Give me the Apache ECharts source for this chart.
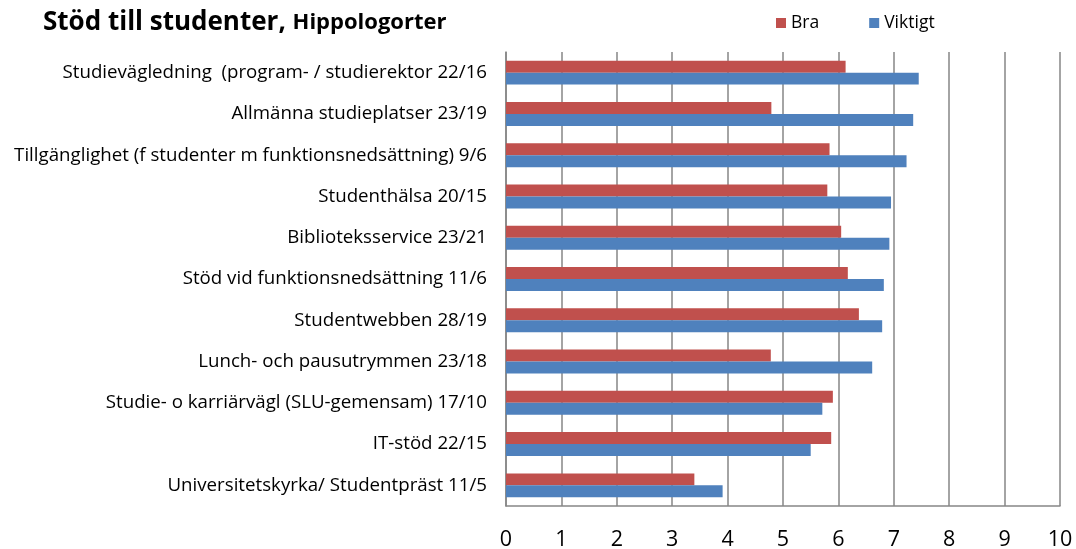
<!DOCTYPE html>
<html>
<head>
<meta charset="utf-8">
<script src="https://cdn.jsdelivr.net/npm/echarts@6/dist/echarts.min.js"></script>
<style>
  html, body { margin: 0; padding: 0; background: #fff; }
  #chart { width: 1076px; height: 549px; }
</style>
</head>
<body>
<div id="chart"></div>
<script>
var categories = [
  'Studievägledning  (program- / studierektor 22/16',
  'Allmänna studieplatser 23/19',
  'Tillgänglighet (f studenter m funktionsnedsättning) 9/6',
  'Studenthälsa 20/15',
  'Biblioteksservice 23/21',
  'Stöd vid funktionsnedsättning 11/6',
  'Studentwebben 28/19',
  'Lunch- och pausutrymmen 23/18',
  'Studie- o karriärvägl (SLU-gemensam) 17/10',
  'IT-stöd 22/15',
  'Universitetskyrka/ Studentpräst 11/5'
];
var bra = [6.13, 4.79, 5.84, 5.80, 6.05, 6.17, 6.37, 4.78, 5.90, 5.87, 3.40];
var viktigt = [7.45, 7.35, 7.23, 6.95, 6.92, 6.82, 6.79, 6.61, 5.71, 5.50, 3.91];

var chart = echarts.init(document.getElementById('chart'));
var font = '"Open Sans", "Noto Sans", sans-serif';

var option = {
  animation: false,
  textStyle: { fontFamily: font },
  title: {
    text: '{a|Stöd till studenter, }{b|Hippologorter}',
    left: 38,
    top: 5,
    textStyle: {
      rich: {
        a: { fontFamily: font, fontSize: 26, fontWeight: 'bold', color: '#000' },
        b: { fontFamily: font, fontSize: 22, fontWeight: 'bold', color: '#000' }
      }
    }
  },
  legend: {
    data: ['Bra', 'Viktigt'],
    left: 771,
    top: 9,
    itemWidth: 10,
    itemHeight: 10,
    itemGap: 50,
    icon: 'rect',
    textStyle: { fontFamily: font, fontSize: 17.5, color: '#000' }
  },
  grid: { left: 506, right: 16, top: 52, bottom: 43, containLabel: false, outerBoundsMode: 'none' },
  xAxis: {
    type: 'value',
    min: 0,
    max: 10,
    interval: 1,
    axisLine: { show: true, lineStyle: { color: '#868686', width: 1.5 } },
    axisTick: { show: false },
    axisLabel: { fontFamily: font, fontSize: 21.5, color: '#000', margin: 23 },
    splitLine: { show: true, lineStyle: { color: '#868686', width: 1.5 } }
  },
  yAxis: {
    type: 'category',
    data: categories,
    inverse: true,
    axisLine: { show: true, lineStyle: { color: '#868686', width: 1.5 } },
    axisTick: { show: false },
    axisLabel: { fontFamily: font, fontSize: 18.7, color: '#000', margin: 19 }
  },
  series: [
    {
      name: 'Bra',
      type: 'bar',
      data: bra,
      barGap: '0%',
      barCategoryGap: '42%',
      itemStyle: { color: '#C0504D' }
    },
    {
      name: 'Viktigt',
      type: 'bar',
      data: viktigt,
      itemStyle: { color: '#4F81BD' }
    }
  ]
};

chart.setOption(option);
</script>
</body>
</html>
